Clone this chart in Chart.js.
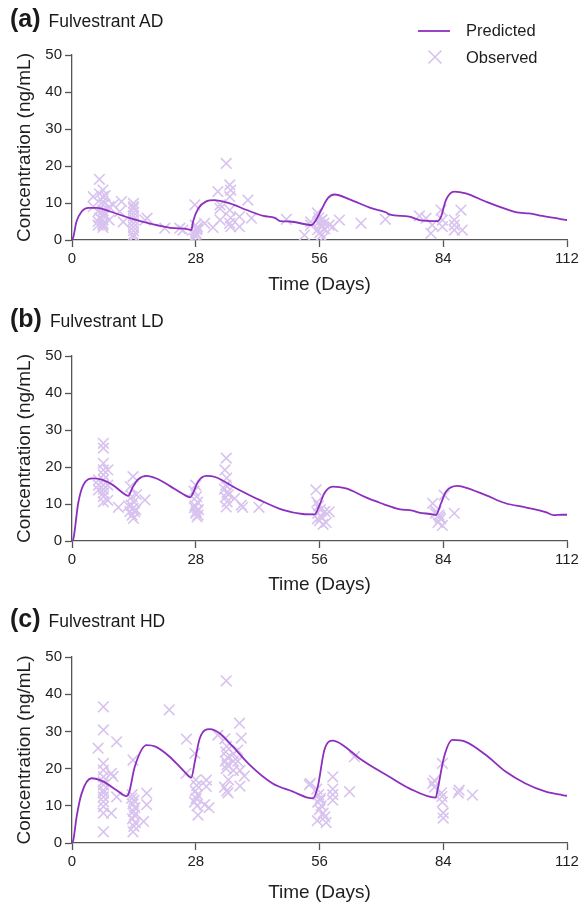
<!DOCTYPE html>
<html>
<head>
<meta charset="utf-8">
<script src="https://cdn.jsdelivr.net/npm/chart.js@4.4.1/dist/chart.umd.min.js"></script>
<style>
  body { margin:0; background:#fff; font-family:"Liberation Sans", Arial, sans-serif; }
  #wrap { position:relative; width:584px; height:908px; }
  .panel { position:absolute; left:0; width:584px; }
  .panel canvas { position:absolute; left:0; top:0; }
  .head { position:absolute; left:10px; top:4px; white-space:nowrap; color:#1a1a1a; }
  .head b { font-size:25px; }
  .head span { font-size:17.5px; margin-left:8px; }
</style>
</head>
<body>
<div id="wrap">
  <div class="panel" style="top:0;height:300px">
    <canvas id="chartAD" width="584" height="300"></canvas>
    <div class="head"><b>(a)</b><span>Fulvestrant AD</span></div>
  </div>
  <div class="panel" style="top:300px;height:300px">
    <canvas id="chartLD" width="584" height="300"></canvas>
    <div class="head"><b>(b)</b><span>Fulvestrant LD</span></div>
  </div>
  <div class="panel" style="top:600px;height:308px">
    <canvas id="chartHD" width="584" height="308"></canvas>
    <div class="head"><b>(c)</b><span>Fulvestrant HD</span></div>
  </div>
</div>
<script>
// ---- data ----
const xTicks = [0, 28, 56, 84, 112];
const yTicks = [0, 10, 20, 30, 40, 50];

// (a) AD
const adPredDay  = [0,0.3,1,2.2,3.7,5.6,8.6,13.1,18.4,22.2,26.3,27.0,27.4,28.6,30.5,32,35.7,39.5,43.3,45.9,47.1,49.3,54.2,55.2,56.4,57.9,59.4,62.8,67.7,71,71.8,76.3,78.6,82.7,83.5,84.6,86.5,89.1,93.6,98.9,101.1,103.4,106.4,110.9,112];
const adPredConc = [0,0.8,4.9,7.7,8.7,8.7,7.7,5.9,4.2,3.3,2.9,2.7,5.0,8.6,10.5,10.8,9.9,8.1,6.5,6.0,5.1,5.0,4.05,5.4,8.1,11.3,12.3,11.0,8.6,7.5,6.9,6.3,5.4,5.1,6.3,10.8,13.1,12.6,10.4,8.1,7.4,7.2,6.5,5.6,5.4];
const adObsDay  = [4.8,4.8,5.9,5.9,5.9,6.2,6.2,6.2,7,7,7,7,7,7,7,7,7,7,7.5,7.5,8.4,8.4,9.3,10.8,11.2,11.6,
                   13.9,13.9,13.9,13.9,13.9,13.9,13.9,13.9,13.9,13.9,13.9,16.5,17,21,24.4,25.1,27.8,
                   27.6,27.8,28,28.2,28.4,27.9,28.1,28.3,30,31.9,33,33.5,33.5,33.5,34.9,35.7,35.7,35.7,35.7,35.9,35.9,35.9,
                   37.9,37.9,39.8,40.6,48.5,52.6,54,54,55.5,55.8,56,56.2,56.5,55.6,56.1,56.4,56.8,57.2,57,56.6,58.2,59,60.5,65.4,70.9,
                   78.6,80.1,81.2,81.5,83.5,83.8,83.8,86.5,86.5,86.5,88,88.3];
const adObsConc = [11.7,9.0,7.7,5.0,4.0,16.4,12.5,6.0,13.5,11.7,10.4,9.5,8.0,6.8,5.4,4.5,4.05,3.4,6.8,12.0,5.4,9.0,9.5,7.7,10.4,4.9,
                   9.9,9.0,8.5,7.5,6.5,5.5,4.5,3.5,2.5,1.5,0.8,5.4,5.9,3.2,3.2,2.7,9.5,
                   0.5,1.2,2.0,2.8,3.5,4.0,1.6,3.0,4.5,3.4,13.1,9.5,8.5,5.4,20.7,14.9,11.7,8.1,4.5,13.5,3.6,6.0,
                   6.3,3.6,10.8,5.9,5.6,1.35,4.9,4.0,7.3,6.0,5.0,4.2,3.5,2.8,2.0,1.2,0.6,3.0,4.5,5.5,4.05,3.6,5.4,4.5,5.6,
                   6.5,5.9,1.8,4.05,8.1,5.4,3.6,5.4,4.05,2.7,8.1,2.7];

// (b) LD
const ldPredDay  = [0,0.3,1.4,2.55,4.8,6.9,9.3,11.6,12.7,13.8,15,16.9,19.1,22.1,25.1,26.8,27.3,28.5,30.4,32.4,37.2,42.4,47.7,52.2,54.9,56,57.1,59,62,66.5,69.5,70.6,74,77,78.5,81.6,82.3,83.5,84.6,87.2,88.3,93.6,98.1,102.6,107.2,109,110.9,112];
const ldPredConc = [0,0.5,10.2,15.1,16.9,16.5,15.1,12.9,12.2,14.7,16.7,17.6,16.9,14.9,12.7,11.8,12.7,16,17.6,17.3,14.2,11.1,8.4,7.3,7.2,9.7,12.9,14.7,14.2,11.8,10.4,9.9,8.6,8.2,7.7,7.2,7.0,10.2,13.3,14.9,14.7,12.4,10.2,9.1,7.8,7.0,7.1,7.1];
const ldObsDay  = [6,6,6,7.1,7.1,7.1,7.1,7.1,7.1,7.1,7.1,7.1,7.1,7.1,8.1,8.1,8.1,10.5,
                   13.8,13.2,13.6,14,13.4,13.8,14.2,13.6,13.9,12.8,14.4,13.1,14.6,16.5,
                   28,27.6,28.2,28.4,27.8,28.6,28,28.3,27.7,28.1,28.5,34.9,34.6,35,34.8,35.2,34.7,35.1,34.9,35.4,34.5,36.8,38.3,38.6,42.3,
                   55.2,55.4,55.8,56.2,55.6,56.4,56,56.8,57.2,55.5,57.5,58.2,
                   81.6,82.4,83,83.4,82.8,83.8,82.2,83.2,84.2,86.5];
const ldObsConc = [16.5,15.1,13.8,26.4,25.1,21.0,19.2,17.9,16.5,15.1,14.0,13.0,12.0,10.6,19.2,15.1,11.0,9.1,
                   17.4,14.7,12.0,10.6,9.7,8.8,7.9,7.0,6.1,9.5,8.5,8.0,12.5,11.1,
                   15.1,13.5,12.0,10.5,9.5,8.5,7.5,6.5,9.0,8.0,7.0,22.4,19.2,17.0,15.1,13.3,11.9,10.6,9.2,12.5,14.0,11.5,9.7,9.1,9.1,
                   13.8,10.5,9.5,8.5,7.5,6.5,5.5,4.5,8.0,6.0,5.0,7.9,
                   10.2,8.0,7.0,6.0,5.0,4.2,7.5,6.5,12.4,7.5];

// (c) HD
const hdPredDay  = [0,0.3,1.05,2.2,4.4,7.1,10.1,12.3,12.9,14.2,16.9,18.9,22.1,25.1,27,27.8,28.9,31.2,33.4,36.4,40.2,45.4,50,53.3,54.5,55.6,57.1,59,61.3,65,71.8,76.3,82.3,82.7,84.2,86.1,89.1,93.6,98.1,102.6,107.2,110.9,112];
const hdPredConc = [0,0.8,7.1,13.4,17.4,16.5,14.2,12.6,13.5,20.5,26.3,25.9,23.2,19.6,17.6,21.9,28.1,30.6,29.5,25.9,21,16,13.8,12.2,12.0,15.1,25,27.5,26.3,22.8,17.8,14.7,12.2,14.2,23.2,27.7,27.2,23.7,19.2,16,13.8,12.9,12.7];
const hdObsDay  = [5.9,7.1,7.1,7.1,7.1,7.1,7.1,7.1,7.1,7.1,7.1,7.1,7.1,7.1,7.1,8.9,8.9,9.3,10.1,10.1,
                   13.8,13.6,14,13.8,14.2,13.9,14.1,13.7,14.3,14,13.8,13.5,16.9,16.9,16.2,
                   22,25.9,25.8,27.8,28,28.2,27.9,28.4,28.1,27.7,28.3,28.5,30.4,30.4,30,31,33,
                   34.9,34.6,35,34.8,35.2,34.7,35.1,34.9,35.4,34.5,35,35.3,36.5,36.5,36.5,37.9,38.3,37.5,37.5,38,38,39,
                   53.7,53.9,55.4,55.8,56.2,55.6,56.4,56,56.8,57.2,55.5,57.5,56.1,59,59,59,59,62.8,63.9,
                   81.6,82,82,83.8,83.6,83.8,84,83.7,84,87.6,87.4,90.6];
const hdObsConc = [25.5,36.6,30.4,21.4,19.6,17.8,15.6,14.2,12.4,11.1,9.8,8.0,3.0,13.5,16.5,18.7,8.0,17.9,27.2,12.4,
                   22.3,13.0,11.5,10.5,9.5,8.5,7.5,6.5,5.5,4.5,3.0,12.0,13.4,10.3,5.8,
                   35.8,27.9,18.7,24.1,17.0,15.5,14.0,13.0,12.0,11.0,10.0,7.5,16.9,15.2,10.3,9.5,29.0,
                   43.6,28.0,26.0,24.5,23.0,22.0,21.0,20.0,17.0,15.0,14.0,13.5,24.0,22.0,19.5,32.2,28.2,25.0,22.0,19.5,15.3,18.0,
                   15.6,16.0,14.5,13.0,12.0,11.0,10.0,9.0,8.0,7.0,6.0,5.5,11.5,17.8,14.5,13.0,11.5,13.8,23.2,
                   16.0,16.8,15.0,21.4,13.5,11.0,8.1,12.5,6.7,14.2,13.5,12.9];

// ---- styling ----
const FONT = '"Liberation Sans", Arial, sans-serif';
const LINE_COLOR = '#8c2fbf';
const OBS_COLOR  = '#d8c3ef';
const AXIS_COLOR = '#555';
const TEXT_COLOR = '#1e1e1e';

const pairs = (xs, ys) => xs.map((x, i) => ({ x, y: ys[i] }));

// legend drawn by hand inside panel (a)
const legendPlugin = {
  id: 'handLegend',
  afterDraw(chart) {
    const ctx = chart.ctx;
    ctx.save();
    ctx.strokeStyle = LINE_COLOR;
    ctx.lineWidth = 1.8;
    ctx.beginPath(); ctx.moveTo(418, 31); ctx.lineTo(450, 31); ctx.stroke();
    ctx.strokeStyle = OBS_COLOR;
    ctx.lineWidth = 1.6;
    const r = 6.5;
    ctx.beginPath();
    ctx.moveTo(435 - r, 57 - r); ctx.lineTo(435 + r, 57 + r);
    ctx.moveTo(435 + r, 57 - r); ctx.lineTo(435 - r, 57 + r);
    ctx.stroke();
    ctx.fillStyle = TEXT_COLOR;
    ctx.font = '16.5px ' + FONT;
    ctx.textBaseline = 'middle';
    ctx.fillText('Predicted', 466, 31);
    ctx.fillText('Observed', 466, 58);
    ctx.restore();
  }
};

function makePanel(id, predDay, predConc, obsDay, obsConc, padTop, xHeight, withLegend) {
  return new Chart(document.getElementById(id), {
    type: 'scatter',
    data: {
      datasets: [
        {
          type: 'line',
          label: 'Predicted',
          data: pairs(predDay, predConc),
          borderColor: LINE_COLOR,
          borderWidth: 1.8,
          pointRadius: 0,
          cubicInterpolationMode: 'monotone',
          fill: false
        },
        {
          type: 'scatter',
          label: 'Observed',
          data: pairs(obsDay, obsConc),
          pointStyle: 'crossRot',
          pointRadius: 7.5,
          borderColor: OBS_COLOR,
          backgroundColor: OBS_COLOR,
          pointBorderWidth: 1.6
        }
      ]
    },
    options: {
      responsive: false,
      animation: false,
      events: [],
      layout: { padding: { left: 0, right: 17, top: padTop, bottom: 0 } },
      plugins: { legend: { display: false }, tooltip: { enabled: false } },
      scales: {
        x: {
          type: 'linear', min: 0, max: 112,
          afterBuildTicks: s => { s.ticks = xTicks.map(v => ({ value: v })); },
          afterFit: s => { s.height = xHeight; },
          ticks: { color: TEXT_COLOR, font: { family: FONT, size: 15 }, padding: 3, maxRotation: 0 },
          grid: { drawOnChartArea: false, drawTicks: true, tickLength: 7, color: AXIS_COLOR, tickWidth: 1.3 },
          border: { color: AXIS_COLOR, width: 1.3 },
          title: { display: true, text: 'Time (Days)', color: TEXT_COLOR,
                   font: { family: FONT, size: 19 }, padding: { top: 0, bottom: 4 } }
        },
        y: {
          min: 0, max: 50,
          afterBuildTicks: s => { s.ticks = yTicks.map(v => ({ value: v })); },
          afterFit: s => { s.width = 72; },
          ticks: { color: TEXT_COLOR, font: { family: FONT, size: 15 }, padding: 3 },
          grid: { drawOnChartArea: false, drawTicks: true, tickLength: 7, color: AXIS_COLOR, tickWidth: 1.3 },
          border: { color: AXIS_COLOR, width: 1.3 },
          title: { display: true, text: 'Concentration (ng/mL)', color: TEXT_COLOR,
                   font: { family: FONT, size: 19 }, padding: { top: 13, bottom: 0 } }
        }
      }
    },
    plugins: withLegend ? [legendPlugin] : []
  });
}

makePanel('chartAD', adPredDay, adPredConc, adObsDay, adObsConc, 55, 60, true);
makePanel('chartLD', ldPredDay, ldPredConc, ldObsDay, ldObsConc, 56, 59, false);
makePanel('chartHD', hdPredDay, hdPredConc, hdObsDay, hdObsConc, 57, 65, false);
</script>
</body>
</html>
